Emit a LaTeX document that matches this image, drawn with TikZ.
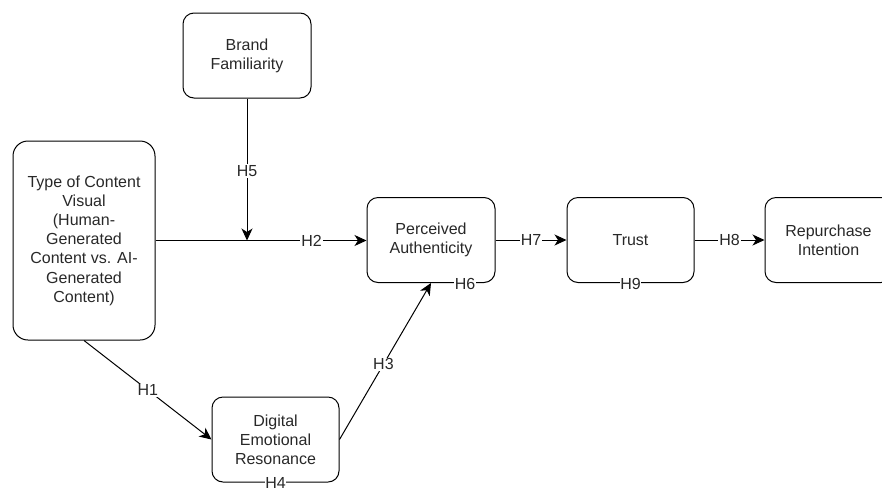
\documentclass[tikz,border=0pt]{standalone}
\usepackage{fontspec}
\setmainfont{Liberation Sans}
\usetikzlibrary{arrows.meta}
\definecolor{ink}{RGB}{40,40,40}
\begin{document}
\begin{tikzpicture}[x=1pt,y=-1pt,
  box/.style={draw=black, line width=1pt, rounded corners=11pt, align=center,
    inner sep=0pt, text=ink, font=\fontsize{16}{19.2}\selectfont,
    minimum width=128pt, minimum height=85pt},
  lab/.style={fill=white, inner sep=1pt, text=ink, font=\fontsize{16}{19.2}\selectfont},
  conn/.style={draw=black, line width=1pt, -{Stealth[length=12pt,width=11pt,inset=3.5pt]}},
  plain/.style={draw=black, line width=1pt}]
\useasboundingbox (0,0) rectangle (882,488);
\node[box, minimum width=142pt, minimum height=199pt, rounded corners=15pt] (type) at (84,240.5)
  {Type of Content\\Visual\\(Human-\\Generated\\Content vs. AI-\\Generated\\Content)};
\node[box] (brand) at (247,55.5) {Brand\\Familiarity};
\node[box] (pa) at (431,240) {Perceived\\Authenticity};
\node[box, minimum width=127pt] (trust) at (630.5,240) {Trust};
\node[box, minimum width=127pt] (rep) at (828.5,240) {Repurchase\\Intention};
\node[box, minimum width=127pt] (der) at (275.5,439.5) {Digital\\Emotional\\Resonance};
\coordinate (j) at (247,240.5);
% main path
\draw[conn] (type.east) -- node[lab, pos=0.74] {H2} (pa.west |- type.east);
\draw[conn] (brand.south) -- node[lab, pos=0.51] {H5} (j);
\draw[conn] (pa.east) -- node[lab] {H7} (trust.west);
\draw[conn] (trust.east) -- node[lab] {H8} (rep.west);
\draw[conn] (type.south) -- node[lab] {H1} (der.west);
\draw[conn] (der.east) -- node[lab, pos=0.48] {H3} (pa.south);
% labels on borders
\node[lab, inner sep=0.5pt] (h6) at (465,284) {H6};
\node[lab, inner sep=0.5pt] (h9) at (630.5,284) {H9};
\node[lab, inner sep=0.5pt] (h4) at (275.5,483) {H4};
\end{tikzpicture}
\end{document}
